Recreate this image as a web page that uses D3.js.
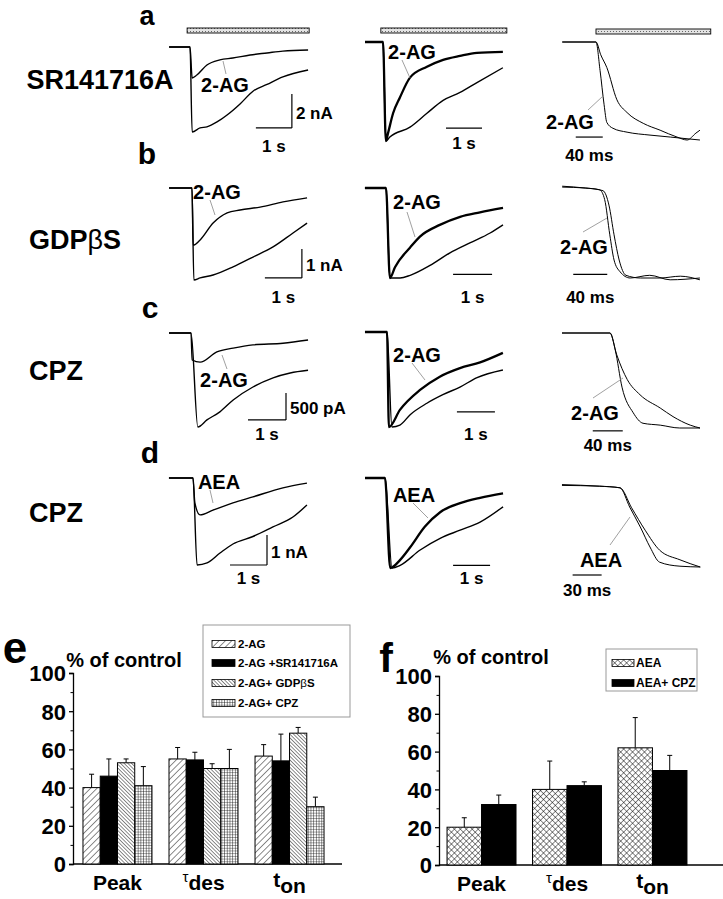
<!DOCTYPE html>
<html>
<head>
<meta charset="utf-8">
<script src="https://cdn.jsdelivr.net/npm/d3@7"></script>
<style>
  body { margin: 0; background: #fff; }
  text { font-family: "Liberation Sans", Arial, sans-serif; font-weight: bold; fill: #000; }
</style>
</head>
<body>
<svg id="fig" width="723" height="899"></svg>
<script>
// ---- Recorded traces: [time, current]
// column 1: time in s, current in nA; column 2: time in s, normalised current; column 3: time in ms, normalised current
var a1Drug = [[-0.58,0],[0,0],[0.06,-1.82],[0.19,-1.65],[0.47,-1.06],[0.83,-0.76],[1.19,-0.65],[1.67,-0.47],[2.14,-0.35],[2.58,-0.24],[3.28,-0.18]];
var a1Ctrl = [[-0.58,0],[0,0],[0.06,-5.0],[0.28,-4.76],[0.47,-4.7],[0.75,-4.41],[1.03,-4.0],[1.39,-3.35],[1.75,-2.6],[2.14,-2.2],[2.58,-1.76],[3.28,-1.35]];
var a2Drug = [[-0.5,0],[0,0],[0.08,-1.0],[0.14,-0.92],[0.28,-0.72],[0.47,-0.56],[0.75,-0.36],[1.22,-0.25],[1.67,-0.18],[2.14,-0.14],[2.61,-0.11],[3.33,-0.10]];
var a2Ctrl = [[-0.5,0],[0,0],[0.08,-1.0],[0.19,-0.96],[0.75,-0.86],[1.22,-0.72],[1.67,-0.59],[2.14,-0.51],[2.61,-0.41],[3.33,-0.26]];
var a3Drug = [[-50,0],[0,0],[6,-0.29],[12,-0.64],[16,-0.82],[25,-0.88],[46,-0.92],[80,-0.95],[110,-0.97],[139,-0.99],[154,-1.0]];
var a3Ctrl = [[-50,0],[0,0],[7,-0.13],[16,-0.26],[31,-0.59],[46,-0.72],[70,-0.83],[95,-0.90],[120,-0.97],[135,-1.0],[148,-0.93],[154,-0.90]];

var b1Drug = [[-0.62,0],[0,0],[0.03,-1.97],[0.22,-1.79],[0.57,-1.21],[0.95,-0.86],[1.30,-0.76],[1.84,-0.66],[2.46,-0.48],[3.11,-0.34]];
var b1Ctrl = [[-0.62,0],[0,0],[0.05,-3.17],[0.22,-3.10],[0.57,-3.0],[1.11,-2.72],[1.65,-2.38],[2.19,-2.03],[2.73,-1.55],[3.11,-1.21]];
var b2Drug = [[-0.54,0],[0,0],[0.1,-1.0],[0.23,-0.88],[0.62,-0.66],[0.87,-0.54],[1.38,-0.41],[1.90,-0.32],[2.41,-0.27],[3.0,-0.22]];
var b2Ctrl = [[-0.54,0],[0,0],[0.10,-1.0],[0.36,-1.0],[0.62,-0.97],[1.13,-0.86],[1.64,-0.72],[2.15,-0.61],[2.67,-0.5],[3.0,-0.41]];
var b3Drug = [[-48,0.02],[-21,0],[-4,-0.02],[2,-0.13],[8,-0.52],[13,-0.8],[20,-0.93],[32,-1.0],[55,-0.97],[79,-1.02],[114,-1.0]];
var b3Ctrl = [[-48,0.01],[-21,0],[0,-0.03],[7,-0.19],[13,-0.52],[19,-0.8],[27,-0.97],[44,-1.0],[67,-1.0],[91,-0.98],[114,-1.02]];

var c1Drug = [[-0.58,0],[0,0],[0.03,-0.50],[0.24,-0.54],[0.68,-0.35],[1.11,-0.28],[1.63,-0.22],[2.42,-0.19],[3.08,-0.13]];
var c1Ctrl = [[-0.58,0],[0,0],[0.18,-1.74],[0.42,-1.61],[0.76,-1.46],[1.11,-1.24],[1.63,-1.0],[2.16,-0.83],[2.61,-0.74],[3.08,-0.69]];
var c2Drug = [[-0.58,0],[0,0],[0.05,-1.0],[0.34,-0.82],[0.87,-0.61],[1.39,-0.47],[1.92,-0.38],[2.45,-0.32],[3.05,-0.22]];
var c2Ctrl = [[-0.58,0],[0,0],[0.13,-1.0],[0.34,-0.98],[0.61,-0.87],[1.05,-0.75],[1.47,-0.66],[1.92,-0.58],[2.37,-0.48],[3.05,-0.40]];
var c3Drug = [[-64,0],[0,0],[7,-0.18],[16,-0.57],[31,-0.84],[44,-0.95],[67,-0.97],[93,-1.0],[120,-1.0]];
var c3Ctrl = [[-64,0],[0,0],[9,-0.23],[23,-0.49],[40,-0.65],[67,-0.79],[84,-0.88],[107,-0.97],[120,-1.0]];

var d1Drug = [[-0.65,0],[0,0],[0.05,-0.83],[0.19,-1.23],[0.54,-1.07],[1.08,-0.83],[1.62,-0.63],[2.43,-0.33],[3.08,-0.17]];
var d1Ctrl = [[-0.65,0],[0,0],[0.11,-2.9],[0.38,-2.83],[0.73,-2.5],[1.08,-2.2],[1.62,-1.95],[2.16,-1.63],[2.70,-1.3],[3.08,-0.9]];
var d2Drug = [[-0.54,0],[0,0],[0.14,-1.0],[0.41,-0.91],[0.68,-0.77],[1.08,-0.54],[1.49,-0.38],[2.03,-0.28],[2.57,-0.22],[3.19,-0.17]];
var d2Ctrl = [[-0.54,0],[0,0],[0.19,-1.0],[0.41,-0.97],[0.95,-0.8],[1.49,-0.67],[2.03,-0.58],[2.57,-0.49],[3.19,-0.32]];
var d3Drug = [[-60,0.03],[-21,0.01],[0,-0.01],[10,-0.25],[21,-0.5],[31,-0.75],[41,-0.94],[62,-0.99],[83,-1.0]];
var d3Ctrl = [[-60,0.02],[-21,0.01],[0,-0.01],[12,-0.26],[26,-0.54],[41,-0.79],[62,-0.91],[83,-1.0]];

// ---- Summary bars (% of control)
var groupsE = ['Peak', 'tdes', 'ton'];
var seriesE = ['2-AG', '2-AG +SR141716A', '2-AG+ GDP\u03b2S', '2-AG+ CPZ'];
var meansE = [[40, 46, 53, 41], [55, 54.5, 50, 50], [56.5, 54, 68.5, 30]];
var semsE  = [[7, 9, 2, 10], [6, 4, 2.5, 10], [6, 14, 3, 5]];

var groupsF = ['Peak', 'tdes', 'ton'];
var seriesF = ['AEA', 'AEA+ CPZ'];
var meansF = [[20, 32], [40, 42], [62, 50]];
var semsF  = [[5, 5], [15, 2], [16, 8]];

var yTicks = [0, 20, 40, 60, 80, 100];
var yMinor = [10, 30, 50, 70, 90];

// ---- panel geometry (origin of time 0 / baseline, px per unit)
var panels = [
  { row: 'a', label: 'SR141716A', drug: '2-AG', cols: [
    { x0: 190, y0: 47, sx: 36, sy: 17, tr: [a1Drug, a1Ctrl], bar: { t: 2.83, v: -4.76, dt: 1, dv: 2, h: '1 s', vl: '2 nA', dy: 24 }, stim: [-0.08, 3.31] },
    { x0: 383, y0: 42, sx: 36, sy: 99, tr: [a2Drug, a2Ctrl], bar: { t: 2.75, v: -0.87, dt: 1, h: '1 s', dy: 21 }, stim: [-0.06, 3.44] },
    { x0: 596, y0: 42, sx: 0.675, sy: 98, tr: [a3Drug, a3Ctrl], bar: { t: 10, v: -0.97, dt: 40, h: '40 ms', dy: 24 }, stim: [0, 170] }
  ], ann: [[225, 85, 223, 61, 226, 74], [412, 52, 402, 60, 410, 78], [570, 122, 588, 110, 603, 96]], letter: [147, 25], name: [100, 89] },
  { row: 'b', label: 'GDP\u03b2S', drug: '2-AG', cols: [
    { x0: 192, y0: 188, sx: 37, sy: 29, tr: [b1Drug, b1Ctrl], bar: { t: 2.97, v: -3.10, dt: 1, dv: 1, h: '1 s', vl: '1 nA', dy: 25 } },
    { x0: 386, y0: 188, sx: 39, sy: 90, tr: [b2Drug, b2Ctrl], bar: { t: 2.72, v: -0.96, dt: 1, h: '1 s', dy: 29 } },
    { x0: 603, y0: 188, sx: 0.85, sy: 90, tr: [b3Drug, b3Ctrl], bar: { t: 5, v: -0.96, dt: 40, h: '40 ms', dy: 29 } }
  ], ann: [[217, 192, 210, 200, 215, 215], [417, 202, 407, 212, 415, 237], [584, 247, 583, 232, 607, 218]], letter: [147, 164], name: [75, 249] },
  { row: 'c', label: 'CPZ', drug: '2-AG', cols: [
    { x0: 191, y0: 333, sx: 38, sy: 54, tr: [c1Drug, c1Ctrl], bar: { t: 2.5, v: -1.61, dt: 1, dv: 0.5, h: '1 s', vl: '500 pA', dy: 20 } },
    { x0: 387, y0: 332, sx: 38, sy: 95, tr: [c2Drug, c2Ctrl], bar: { t: 2.84, v: -0.84, dt: 1, h: '1 s', dy: 28 } },
    { x0: 610, y0: 333, sx: 0.75, sy: 95, tr: [c3Drug, c3Ctrl], bar: { t: 17, v: -1.03, dt: 40, h: '40 ms', dy: 20 } }
  ], ann: [[224, 380, 222, 355, 227, 369], [417, 355, 412, 363, 425, 380], [595, 413, 593, 398, 623, 378]], letter: [150, 318], name: [56, 380] },
  { row: 'd', label: 'CPZ', drug: 'AEA', cols: [
    { x0: 193, y0: 478, sx: 37, sy: 30, tr: [d1Drug, d1Ctrl], bar: { t: 2.0, v: -2.9, dt: 1, dv: 1, h: '1 s', vl: '1 nA', dy: 19 } },
    { x0: 385, y0: 478, sx: 37, sy: 90, tr: [d2Drug, d2Ctrl], bar: { t: 2.84, v: -0.97, dt: 1, h: '1 s', dy: 19 } },
    { x0: 620, y0: 487, sx: 0.967, sy: 80, tr: [d3Drug, d3Ctrl], bar: { t: -19, v: -1.1, dt: 30, h: '30 ms', dy: 21 } }
  ], ann: [[219, 482, 210, 490, 213, 503], [414, 495, 413, 503, 428, 518], [601, 560, 610, 545, 630, 517]], letter: [150, 463], name: [56, 522] }
];

var svg = d3.select('#fig');
var defs = svg.append('defs');

// Fill patterns
function hatch(id, size, angle, extra) {
  var p = defs.append('pattern').attr('id', id)
    .attr('patternUnits', 'userSpaceOnUse')
    .attr('width', size).attr('height', size)
    .attr('patternTransform', 'rotate(' + angle + ')');
  p.append('rect').attr('width', size).attr('height', size).attr('fill', '#fff');
  p.append('line').attr('x1', 0).attr('y1', 0).attr('x2', 0).attr('y2', size)
    .attr('stroke', '#000').attr('stroke-width', 0.9);
  if (extra) {
    p.append('line').attr('x1', 0).attr('y1', 0).attr('x2', size).attr('y2', 0)
      .attr('stroke', '#000').attr('stroke-width', extra);
  }
}
hatch('p-diag', 4.5, 45);
hatch('p-dense', 2.6, -45);
hatch('p-grid', 2.7, 0, 0.7);
hatch('p-cross', 4.2, 45, 0.9);
var dots = defs.append('pattern').attr('id', 'p-dots')
  .attr('patternUnits', 'userSpaceOnUse').attr('width', 3).attr('height', 3);
dots.append('rect').attr('width', 3).attr('height', 3).attr('fill', '#e4e4e4');
dots.append('rect').attr('x', 1).attr('y', 1).attr('width', 1).attr('height', 1).attr('fill', '#666');

// ---- Trace panels
panels.forEach(function(row) {
  svg.append('text').attr('x', row.letter[0]).attr('y', row.letter[1])
     .attr('text-anchor', 'middle').style('font-size', row.row === 'a' ? '27px' : '30px').text(row.row);

  var nm = svg.append('text').attr('x', row.name[0]).attr('y', row.name[1])
     .attr('text-anchor', 'middle').style('font-size', '27px');
  if (row.label.indexOf('\u03b2') >= 0) {
    nm.append('tspan').text('GDP');
    nm.append('tspan').style('font-weight', 'normal').text('\u03b2');
    nm.append('tspan').text('S');
  } else {
    nm.text(row.label);
  }

  row.cols.forEach(function(c, ci) {
    var x = d3.scaleLinear().domain([0, 1]).range([c.x0, c.x0 + c.sx]);
    var y = d3.scaleLinear().domain([0, -1]).range([c.y0, c.y0 + c.sy]);
    var line = d3.line()
      .x(function(d) { return x(d[0]); })
      .y(function(d) { return y(d[1]); })
      .curve(d3.curveMonotoneX);

    c.tr.forEach(function(tr, k) {
      var w = ci === 2 ? 1.0 : (ci === 1 && k === 0 ? 2.3 : 1.4);
      svg.append('path').datum(tr).attr('d', line)
         .attr('fill', 'none').attr('stroke', '#000')
         .attr('stroke-width', w).attr('stroke-linejoin', 'round');
    });

    // scale bars
    var b = c.bar;
    svg.append('line')
       .attr('x1', x(b.t - b.dt)).attr('x2', x(b.t))
       .attr('y1', y(b.v)).attr('y2', y(b.v))
       .attr('stroke', '#000').attr('stroke-width', 1.2);
    svg.append('text').attr('x', (x(b.t - b.dt) + x(b.t)) / 2).attr('y', y(b.v) + b.dy)
       .attr('text-anchor', 'middle').style('font-size', '17px').text(b.h);
    if (b.dv) {
      svg.append('line')
         .attr('x1', x(b.t)).attr('x2', x(b.t))
         .attr('y1', y(b.v)).attr('y2', y(b.v + b.dv))
         .attr('stroke', '#000').attr('stroke-width', 1.2);
      svg.append('text').attr('x', x(b.t) + 4)
         .attr('y', (y(b.v) + y(b.v + b.dv)) / 2 + 8)
         .style('font-size', '17px').text(b.vl);
    }

    // application bar
    if (c.stim) {
      svg.append('rect')
         .attr('x', x(c.stim[0])).attr('width', x(c.stim[1]) - x(c.stim[0]))
         .attr('y', ci === 2 ? 29 : 28).attr('height', 5)
         .attr('fill', 'url(#p-dots)').attr('stroke', '#000').attr('stroke-width', 0.9);
    }

    // drug label with leader line
    var an = row.ann[ci];
    svg.append('line').attr('x1', an[2]).attr('y1', an[3]).attr('x2', an[4]).attr('y2', an[5])
       .attr('stroke', '#888').attr('stroke-width', 0.8);
    svg.append('text').attr('x', an[0]).attr('y', an[1] + 7)
       .attr('text-anchor', 'middle').style('font-size', '20px').text(row.drug);
  });
});

// ---- Bar charts
function barChart(o) {
  var g = svg.append('g');
  var y = d3.scaleLinear().domain([0, 100]).range([o.y0, o.y100]);
  var x0 = d3.scaleBand().domain(o.groups).range(o.xr)
             .paddingInner(o.pi).paddingOuter(o.po);
  var x1 = d3.scaleBand().domain(o.series).range([0, x0.bandwidth()]);

  var yAxis = d3.axisLeft(y).tickValues(yTicks).tickSize(4).tickPadding(3).tickFormat(d3.format('d'));
  var ax = g.append('g').attr('transform', 'translate(' + o.xr[0] + ',0)').call(yAxis);
  ax.attr('font-family', null).attr('font-size', null);
  ax.selectAll('text').style('font-size', '22px').attr('dy', '0.36em');
  ax.selectAll('line, path').attr('stroke-width', 1.3);
  var minor = g.append('g').attr('transform', 'translate(' + o.xr[0] + ',0)')
    .call(d3.axisLeft(y).tickValues(yMinor).tickSize(2.5).tickFormat(''));
  minor.select('.domain').remove();

  g.append('line').attr('x1', o.xr[0]).attr('x2', o.xEnd)
   .attr('y1', y(0)).attr('y2', y(0)).attr('stroke', '#000').attr('stroke-width', 1.5);

  o.groups.forEach(function(gr, gi) {
    o.series.forEach(function(s, si) {
      var m = o.means[gi][si], e = o.sems[gi][si];
      var bx = x0(gr) + x1(s), bw = x1.bandwidth();
      g.append('line')
       .attr('x1', bx + bw / 2).attr('x2', bx + bw / 2)
       .attr('y1', y(m)).attr('y2', y(m + e)).attr('stroke', '#000').attr('stroke-width', 1);
      g.append('line')
       .attr('x1', bx + bw / 2 - 2.5).attr('x2', bx + bw / 2 + 2.5)
       .attr('y1', y(m + e)).attr('y2', y(m + e)).attr('stroke', '#000').attr('stroke-width', 1);
      g.append('rect').attr('x', bx).attr('width', bw)
       .attr('y', y(m)).attr('height', y(0) - y(m))
       .attr('fill', o.fills[si]).attr('stroke', '#000').attr('stroke-width', 1);
    });

    var cx = x0(gr) + x0.bandwidth() / 2;
    var t = g.append('text').attr('x', cx).attr('y', o.labY).attr('text-anchor', 'middle').style('font-size', '21px');
    if (gr === 'tdes') {
      t.append('tspan').style('font-size', '15px').style('font-weight', 'normal').attr('dy', -8).text('\u03c4');
      t.append('tspan').attr('dy', 8).text('des');
    } else if (gr === 'ton') {
      t.append('tspan').attr('dy', -3).text('t');
      t.append('tspan').attr('dy', 6).text('on');
    } else {
      t.text(gr);
    }
  });

  // panel letter and axis title
  svg.append('text').attr('x', o.letter[0]).attr('y', o.letter[1]).attr('text-anchor', 'middle')
     .style('font-size', o.letter[2] + 'px').text(o.name);
  svg.append('text').attr('x', o.title[0]).attr('y', o.title[1]).attr('text-anchor', 'middle')
     .style('font-size', '20px').text('% of control');

  // legend
  var L = o.legend;
  g.append('rect').attr('x', L.x).attr('y', L.y).attr('width', L.w).attr('height', L.h)
   .attr('fill', '#fff').attr('stroke', '#999').attr('stroke-width', 1);
  o.series.forEach(function(s, si) {
    var ry = L.rows[si];
    g.append('rect').attr('x', L.sx).attr('y', ry - 3.5).attr('width', L.sw).attr('height', 7)
     .attr('fill', o.fills[si]).attr('stroke', '#000').attr('stroke-width', 0.8);
    var lt = g.append('text').attr('x', L.tx).attr('y', ry + 4).style('font-size', L.fs + 'px');
    var parts = s.split('\u03b2');
    lt.append('tspan').text(parts[0]);
    if (parts.length > 1) {
      lt.append('tspan').style('font-weight', 'normal').text('\u03b2');
      lt.append('tspan').text(parts[1]);
    }
  });
}

barChart({
  name: 'e', letter: [15, 663, 44], title: [124, 667],
  groups: groupsE, series: seriesE, means: meansE, sems: semsE,
  fills: ['url(#p-diag)', '#000', 'url(#p-dense)', 'url(#p-grid)'],
  xr: [73, 334], pi: 0.198, po: 0.116, xEnd: 342, y0: 864, y100: 673, labY: 890,
  legend: { x: 203, y: 625, w: 147, h: 92, sx: 212, sw: 23, tx: 238, fs: 11.5, rows: [644, 663, 683, 703] }
});

barChart({
  name: 'f', letter: [386, 672, 41], title: [491, 664],
  groups: groupsF, series: seriesF, means: meansF, sems: semsF,
  fills: ['url(#p-cross)', '#000'],
  xr: [439, 695], pi: 0.193, po: 0.094, xEnd: 723, y0: 865, y100: 676, labY: 891,
  legend: { x: 606, y: 649, w: 91, h: 42, sx: 612, sw: 22, tx: 636, fs: 12, rows: [663, 683] }
});
</script>
</body>
</html>
